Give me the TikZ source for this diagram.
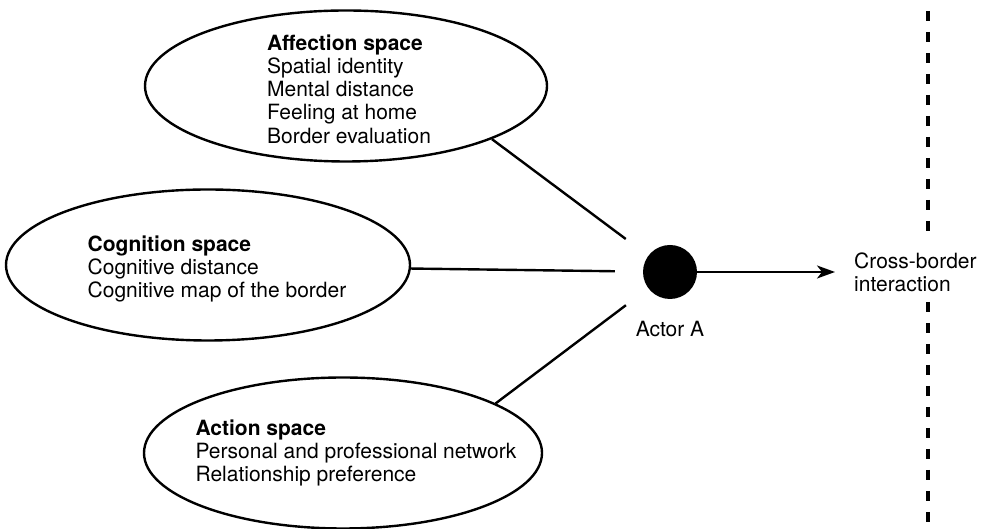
\documentclass[tikz,border=0pt]{standalone}
\usepackage{fontspec}
\setmainfont{TeX Gyre Heros}
\usetikzlibrary{arrows.meta,positioning,shapes.geometric}
\tikzset{
  spacebox/.style={ellipse,draw,line width=2.4pt,inner sep=0pt,minimum width=402pt,minimum height=151pt},
  txt/.style={align=left,inner sep=0pt,font=\fontsize{21}{23.2}\selectfont},
  link/.style={line width=2.4pt,shorten >=28pt},
  actordot/.style={circle,fill=black,minimum size=54pt,inner sep=0pt},
  flow/.style={-{Stealth[length=18pt,width=13pt,inset=5pt]},line width=2pt},
  borderline/.style={line width=3.2pt,dash pattern=on 10pt off 11pt},
}

\begin{document}
\begin{tikzpicture}[x=1pt,y=1pt]
\useasboundingbox (0,0) rectangle (995,529);
% the three spaces
\node[spacebox] (aff) at (346,443) {};
\node[txt] (afftxt) at ([xshift=3pt,yshift=-3pt]aff.center)
  {\textbf{Affection space}\\Spatial identity\\Mental distance\\Feeling at home\\Border evaluation};
\node[spacebox,minimum width=404pt] (cog) at (208,264) {};
\node[txt] (cogtxt) at ([xshift=9pt,yshift=-4pt]cog.center)
  {\textbf{Cognition space}\\Cognitive distance\\Cognitive map of the border};
\node[spacebox,minimum width=398pt] (act) at (343,76) {};
\node[txt] (acttxt) at ([xshift=13pt]act.center)
  {\textbf{Action space}\\Personal and professional network\\Relationship preference};
% actor
\node[actordot] (actor) at (670,257) {};
\node[txt,below=22pt of actor] (actorlbl) {Actor A};
\draw[link] (aff.-20) -- (actor);
\draw[link] (cog.-1) -- (actor);
\draw[link] (act.18) -- (actor);
% interaction across the border
\coordinate (tip) at (835,257);
\draw[flow] (actor) -- (tip);
\node[txt,right=19pt of tip] (cbi) {Cross-border\\interaction};
\coordinate (btop) at (928,518);
\coordinate (bbot) at (928,0);
\draw[borderline] (btop) -- ([yshift=21pt]btop |- cbi.north);
\draw[borderline] ([yshift=-10pt]btop |- cbi.south) -- (bbot);
\end{tikzpicture}
\end{document}
